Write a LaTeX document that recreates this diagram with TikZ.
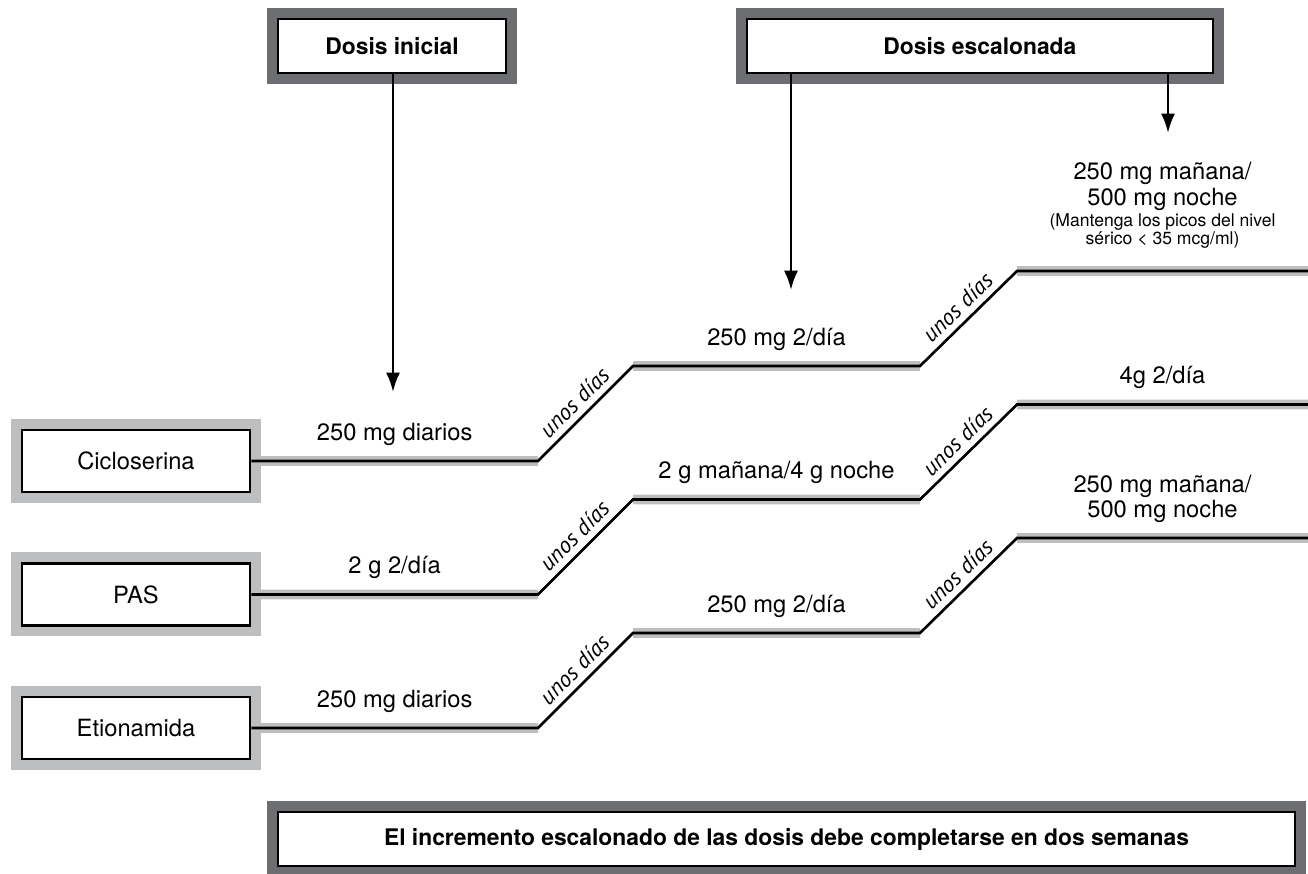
\documentclass[tikz,border=0pt]{standalone}
\usepackage{fontspec}
\setmainfont{TeX Gyre Heros}
\newfontfamily\daysfamily{PT Sans}
\usetikzlibrary{arrows.meta, positioning}
\definecolor{framedark}{HTML}{6D6E71}
\definecolor{framelight}{HTML}{BCBEC0}
\newcommand{\basefont}{\fontsize{13.5}{14.5}\selectfont}
\newcommand{\notefont}{\fontsize{10}{10.5}\selectfont}
\tikzstyle{every node}=[font=\basefont]
\tikzstyle{headbox}=[draw,rectangle,line width=1.5pt,fill=white,minimum width=4.56cm,minimum height=1.08cm,font=\fontsize{13}{14}\selectfont\bfseries,preaction={draw=framedark,line width=0.44cm}]
\tikzstyle{drugbox}=[draw,rectangle,line width=1.5pt,fill=white,minimum width=4.56cm,minimum height=1.24cm,preaction={draw=framelight,line width=0.44cm}]
\tikzstyle{dose}=[midway,anchor=south,inner sep=0pt,yshift=0.3cm,align=center]
\tikzstyle{days}=[midway,sloped,above,inner sep=3.5pt,font=\daysfamily\itshape\fontsize{13}{13}\selectfont]
\tikzstyle{stepline}=[line width=1.5pt]
\tikzstyle{shadeline}=[line width=5.5pt,framelight]

\begin{document}
\begin{tikzpicture}[x=0.02cm, y=-0.02cm, >={Latex[length=11pt,width=8pt]}]
    \useasboundingbox (0,0) rectangle (1308,873);
    \node[headbox] (ini) at (392,46) {Dosis inicial};
    \node[headbox, right of=ini, node distance=11.76cm, minimum width=9.32cm] (esc) {Dosis escalonada};
    \node[drugbox] (cic) at (136,461) {Cicloserina};
    \node[drugbox, below of=cic, node distance=2.67cm] (pas) {PAS};
    \node[drugbox, below of=pas, node distance=2.67cm] (eti) {Etionamida};
    \node[headbox, minimum width=20.34cm] (note) at (786.5,839) {El incremento escalonado de las dosis debe completarse en dos semanas};
    % arrow tips
    \coordinate (t1) at (393,392);
    \coordinate (t2) at (791,290);
    \coordinate (t3) at (1168,133);
    \draw[->, line width=1.5pt] (ini.south -| t1) -- (t1);
    \draw[->, line width=1.5pt] (esc.south -| t2) -- (t2);
    \draw[->, line width=1.5pt] (esc.south -| t3) -- (t3);
    % steps
    \foreach \d/\y in {cic/461, pas/594.5, eti/728}{
        \coordinate (\d1) at (538,\y);
        \coordinate (\d2) at (633,\y-95);
        \coordinate (\d3) at (920,\y-95);
        \coordinate (\d4) at (1017,\y-190);
        \coordinate (\d5) at (1308,\y-190);
        \draw[shadeline] (\d.east) -- (\d1) (\d2) -- (\d3) (\d4) -- (\d5);
        \draw[stepline] (\d.east) -- (\d1) -- node[days] {unos días} (\d2) -- (\d3) -- node[days] {unos días} (\d4) -- (\d5);
    }
    \path (cic.east) -- node[dose] {250 mg diarios} (cic1);
    \path (cic2) -- node[dose] {250 mg 2/día} (cic3);
    \path (cic4) -- node[dose, yshift=0.14cm] {250 mg mañana/\\500 mg noche\\[-2.5pt]\notefont (Mantenga los picos del nivel\\[-4pt]\notefont sérico < 35 mcg/ml)} (cic5);
    \path (pas.east) -- node[dose] {2 g 2/día} (pas1);
    \path (pas2) -- node[dose] {2 g mañana/4 g noche} (pas3);
    \path (pas4) -- node[dose] {4g 2/día} (pas5);
    \path (eti.east) -- node[dose] {250 mg diarios} (eti1);
    \path (eti2) -- node[dose] {250 mg 2/día} (eti3);
    \path (eti4) -- node[dose] {250 mg mañana/\\500 mg noche} (eti5);
\end{tikzpicture}
\end{document}
